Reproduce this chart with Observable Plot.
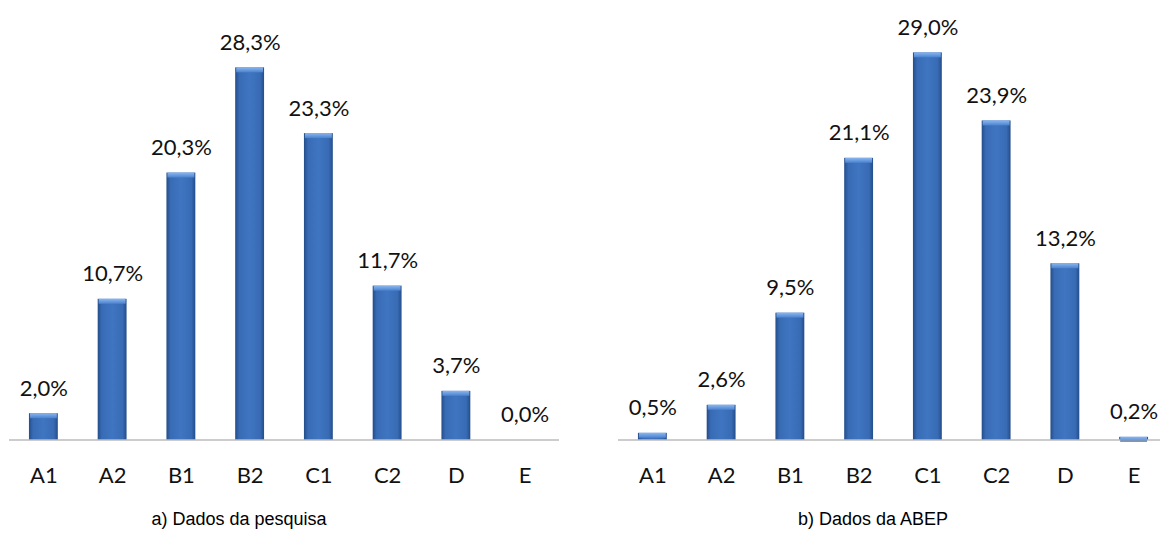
<!DOCTYPE html>
<html>
<head>
<meta charset="utf-8">
<script src="https://cdn.jsdelivr.net/npm/d3@7"></script>
<script src="https://cdn.jsdelivr.net/npm/@observablehq/plot@0.6"></script>
<style>
  html, body { margin: 0; padding: 0; background: #fff; }
  #wrap { position: relative; width: 1160px; height: 542px; overflow: hidden; background: #fff; }
  .panel { position: absolute; top: 0; }
  .caption { position: absolute; top: 509px; font-family: "Liberation Sans", Arial, sans-serif; font-size: 18px; color: #000; transform: translateX(-50%); white-space: nowrap; }
</style>
</head>
<body>
<div id="wrap"></div>
<script>
const categories = ["A1", "A2", "B1", "B2", "C1", "C2", "D", "E"];
const pesquisaValues = [2.0, 10.7, 20.3, 28.3, 23.3, 11.7, 3.7, 0.0];
const abepValues = [0.5, 2.6, 9.5, 21.1, 29.0, 23.9, 13.2, 0.2];
const captions = ["a) Dados da pesquisa", "b) Dados da ABEP"];

const fmt = v => v.toFixed(1).replace(".", ",") + "%";

function defsMark(id) {
  return () => {
    const defs = d3.create("svg:defs");
    const h = defs.append("linearGradient").attr("id", "bar-" + id).attr("x1", "0").attr("x2", "1").attr("y1", "0").attr("y2", "0");
    [["0%", "#244d8a"], ["14%", "#386bb4"], ["50%", "#3f75c1"], ["86%", "#386bb4"], ["100%", "#244d8a"]]
      .forEach(([o, c]) => h.append("stop").attr("offset", o).attr("stop-color", c));
    const v = defs.append("linearGradient").attr("id", "cap-" + id).attr("x1", "0").attr("x2", "0").attr("y1", "0").attr("y2", "1");
    [["0%", "#8ab6ee"], ["100%", "#4a82cf"]]
      .forEach(([o, c]) => v.append("stop").attr("offset", o).attr("stop-color", c));
    return defs.node();
  };
}

function makePanel(values, id, marginLeft, marginRight, marginTop) {
  const data = categories.map((c, i) => ({cat: c, v: values[i]}));
  return Plot.plot({
    width: 580,
    height: 500,
    marginLeft, marginRight, marginTop,
    marginBottom: 60.5,
    x: {domain: categories, paddingInner: 0.58, paddingOuter: 0.29, round: false, axis: null},
    y: {domain: [0, 30], axis: null},
    style: {background: "transparent"},
    marks: [
      defsMark(id),
      Plot.barY(data.filter(d => d.v > 0), {x: "cat", y: "v", fill: `url(#bar-${id})`}),
      Plot.rect(data.filter(d => d.v > 0), {x: "cat", y1: "v", y2: "v", fill: `url(#cap-${id})`, insetBottom: -5, insetLeft: 1, insetRight: 1}),
      Plot.ruleY([0], {stroke: "#9a9a9a", strokeWidth: 1.2}),
      Plot.text(data, {x: "cat", y: "v", text: d => fmt(d.v), dy: -18, lineAnchor: "bottom",
        fontFamily: "Lato, 'Open Sans', sans-serif", fontSize: 22, fill: "#111"}),
      Plot.text(data, {x: "cat", y: () => 0, text: "cat", dy: 43, lineAnchor: "bottom",
        fontFamily: "Lato, 'Open Sans', sans-serif", fontSize: 22, fill: "#111"})
    ]
  });
}

const wrap = document.getElementById("wrap");
const left = makePanel(pesquisaValues, "a", 9, 21, 45);
left.classList.add("panel");
left.style.left = "0px";
wrap.appendChild(left);

const right = makePanel(abepValues, "b", 18, 12, 39);
right.classList.add("panel");
right.style.left = "600px";
wrap.appendChild(right);

[[captions[0], 239], [captions[1], 873]].forEach(([t, x]) => {
  const d = document.createElement("div");
  d.className = "caption";
  d.style.left = x + "px";
  d.textContent = t;
  wrap.appendChild(d);
});
</script>
</body>
</html>
